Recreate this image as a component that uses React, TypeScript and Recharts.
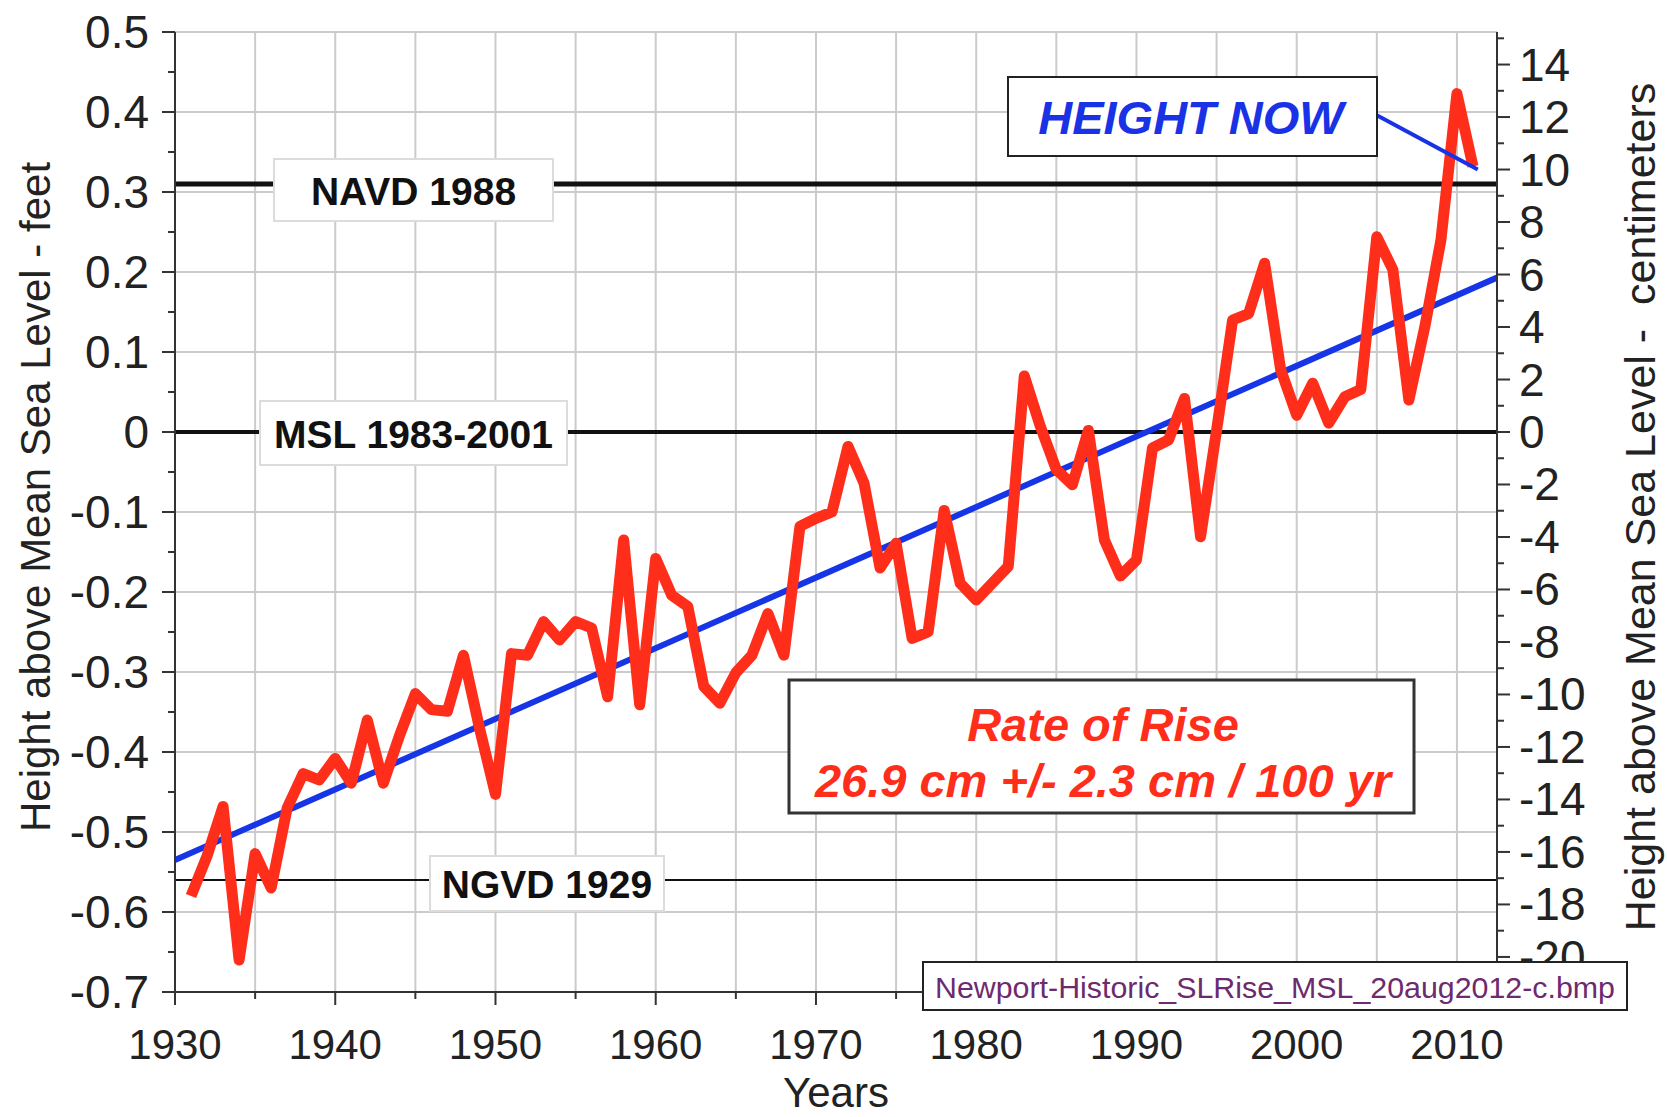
import React from 'react';
import { ComposedChart, Line, XAxis, YAxis, CartesianGrid, ReferenceLine } from 'recharts';

const FONT = '"Liberation Sans", Arial, Helvetica, sans-serif';

// annual mean sea level, feet above MSL 1983-2001
const years = [
  1931, 1932, 1933, 1934, 1935, 1936, 1937, 1938, 1939, 1940,
  1941, 1942, 1943, 1944, 1945, 1946, 1947, 1948, 1949, 1950,
  1951, 1952, 1953, 1954, 1955, 1956, 1957, 1958, 1959, 1960,
  1961, 1962, 1963, 1964, 1965, 1966, 1967, 1968, 1969, 1970,
  1971, 1972, 1973, 1974, 1975, 1976, 1977, 1978, 1979, 1980,
  1981, 1982, 1983, 1984, 1985, 1986, 1987, 1988, 1989, 1990,
  1991, 1992, 1993, 1994, 1995, 1996, 1997, 1998, 1999, 2000,
  2001, 2002, 2003, 2004, 2005, 2006, 2007, 2008, 2009, 2010, 2011
];
const heightFt = [
  -0.58, -0.53, -0.468, -0.66, -0.527, -0.57, -0.47, -0.427, -0.435, -0.408,
  -0.439, -0.36, -0.439, -0.38, -0.327, -0.347, -0.349, -0.279, -0.37, -0.453,
  -0.277, -0.279, -0.237, -0.26, -0.237, -0.245, -0.331, -0.135, -0.341, -0.158,
  -0.204, -0.218, -0.318, -0.339, -0.301, -0.279, -0.227, -0.279, -0.118, -0.108,
  -0.1, -0.018, -0.064, -0.17, -0.139, -0.258, -0.25, -0.098, -0.189, -0.21,
  -0.189, -0.168, 0.07, 0.007, -0.047, -0.066, 0.002, -0.135, -0.18, -0.16,
  -0.02, -0.01, 0.042, -0.131, 0.002, 0.14, 0.148, 0.211, 0.078, 0.021,
  0.061, 0.011, 0.044, 0.053, 0.244, 0.203, 0.04, 0.132, 0.24, 0.423, 0.332
];

// linear trend end points (26.9 cm / 100 yr)
const trendYears = [1930, 2012.5];
const trendFt = [-0.535, 0.193];

// "HEIGHT NOW" pointer
const pointerYears = [2005.0, 2011.3];
const pointerFt = [0.396, 0.328];

// tidal datums
const datumNames = ['NAVD 1988', 'MSL 1983-2001', 'NGVD 1929'];
const datumFt = [0.31, 0, -0.56];

const yearTicks = [1930, 1935, 1940, 1945, 1950, 1955, 1960, 1965, 1970, 1975, 1980, 1985, 1990, 1995, 2000, 2005, 2010];
const ftTicks = [0.5, 0.45, 0.4, 0.35, 0.3, 0.25, 0.2, 0.15, 0.1, 0.05, 0, -0.05, -0.1, -0.15, -0.2, -0.25, -0.3, -0.35, -0.4, -0.45, -0.5, -0.55, -0.6, -0.65, -0.7];
const ftGrid = [0.5, 0.4, 0.3, 0.2, 0.1, 0, -0.1, -0.2, -0.3, -0.4, -0.5, -0.6, -0.7];
const cmTicks = [15, 14, 13, 12, 11, 10, 9, 8, 7, 6, 5, 4, 3, 2, 1, 0, -1, -2, -3, -4, -5, -6, -7, -8, -9, -10, -11, -12, -13, -14, -15, -16, -17, -18, -19, -20, -21];

const seaData = years.map((year, i) => ({ year, ft: heightFt[i] }));
const trendData = trendYears.map((year, i) => ({ year, ft: trendFt[i] }));
const pointerData = pointerYears.map((year, i) => ({ year, ft: pointerFt[i] }));

// label box placement for each datum line (pixels relative to plot left / line)
const datumStyle = [
  { dx: 99, w: 279, top: 25, bottom: 37, ty: 7, sw: 5 },
  { dx: 85, w: 307, top: 31, bottom: 33, ty: 2, sw: 4 },
  { dx: 255, w: 234, top: 24, bottom: 31, ty: 4, sw: 2 }
];

const TICK_COLOR = '#333';
const LABEL_COLOR = '#222';

const fmtFt = (v: number) => (Math.abs(v) < 1e-9 ? '0' : v.toFixed(1));

const FtTick = (props: any) => {
  const { x, y, payload } = props;
  const v = payload.value;
  const major = Math.round(v * 100) % 10 === 0;
  return (
    <g>
      <line x1={x} x2={x - (major ? 13 : 7)} y1={y} y2={y} stroke={TICK_COLOR} strokeWidth={2} />
      {major && (
        <text x={x - 26} y={y} textAnchor="end" dominantBaseline="central" fontSize={46} fill={LABEL_COLOR} fontFamily={FONT}>
          {fmtFt(v)}
        </text>
      )}
    </g>
  );
};

const CmTick = (props: any) => {
  const { x, y, payload } = props;
  const v = payload.value;
  const major = v % 2 === 0;
  return (
    <g>
      <line x1={x} x2={x + (major ? 13 : 7)} y1={y} y2={y} stroke={TICK_COLOR} strokeWidth={2} />
      {major && (
        <text x={x + 22} y={y} textAnchor="start" dominantBaseline="central" fontSize={46} fill={LABEL_COLOR} fontFamily={FONT}>
          {String(v)}
        </text>
      )}
    </g>
  );
};

const YearTick = (props: any) => {
  const { x, y, payload } = props;
  const v = payload.value;
  const major = v % 10 === 0;
  return (
    <g>
      <line x1={x} x2={x} y1={y} y2={y + (major ? 13 : 7)} stroke={TICK_COLOR} strokeWidth={2} />
      {major && (
        <text x={x} y={y + 67} textAnchor="middle" fontSize={42} fill={LABEL_COLOR} fontFamily={FONT}>
          {String(v)}
        </text>
      )}
    </g>
  );
};

const DatumLabel = (props: any) => {
  const { viewBox, text, st } = props;
  const x = viewBox.x;
  const y = viewBox.y;
  return (
    <g>
      <rect x={x + st.dx} y={y - st.top} width={st.w} height={st.top + st.bottom} fill="#fff" stroke="#dcdcdc" strokeWidth={2} />
      <text x={x + st.dx + st.w / 2} y={y + st.ty} textAnchor="middle" dominantBaseline="central" fontSize={39} fontWeight="bold" fill="#111" fontFamily={FONT}>
        {text}
      </text>
    </g>
  );
};

const App: React.FC = () => {
  return (
    <div style={{ position: 'absolute', left: 0, top: 0, width: 1667, height: 1117, background: '#fff' }}>
      <ComposedChart width={1667} height={1117} margin={{ top: 32, right: 0, bottom: 0, left: 0 }}>
        <CartesianGrid yAxisId="ft" stroke="#cbcbcb" strokeWidth={2} horizontalValues={ftGrid} verticalValues={yearTicks} />
        <XAxis
          dataKey="year"
          type="number"
          domain={[1930, 2012.5]}
          allowDataOverflow
          ticks={yearTicks}
          interval={0}
          height={125}
          tickSize={0}
          tickMargin={0}
          tickLine={false}
          tick={<YearTick />}
          axisLine={{ stroke: TICK_COLOR, strokeWidth: 2 }}
        />
        <YAxis
          yAxisId="ft"
          orientation="left"
          type="number"
          domain={[-0.7, 0.5]}
          allowDataOverflow
          ticks={ftTicks}
          interval={0}
          width={175}
          tickSize={0}
          tickMargin={0}
          tickLine={false}
          tick={<FtTick />}
          axisLine={{ stroke: TICK_COLOR, strokeWidth: 2 }}
        />
        <YAxis
          yAxisId="cm"
          orientation="right"
          type="number"
          domain={[-21.336, 15.24]}
          allowDataOverflow
          ticks={cmTicks}
          interval={0}
          width={170}
          tickSize={0}
          tickMargin={0}
          tickLine={false}
          tick={<CmTick />}
          axisLine={{ stroke: TICK_COLOR, strokeWidth: 2 }}
        />
        {datumFt.map((v, i) => (
          <ReferenceLine
            key={datumNames[i]}
            yAxisId="ft"
            y={v}
            stroke="#111"
            strokeWidth={datumStyle[i].sw}
            label={<DatumLabel text={datumNames[i]} st={datumStyle[i]} />}
          />
        ))}
        <Line yAxisId="ft" data={trendData} dataKey="ft" type="linear" stroke="#1535e6" strokeWidth={6} dot={false} activeDot={false} isAnimationActive={false} />
        <Line yAxisId="ft" data={seaData} dataKey="ft" type="linear" stroke="#ff2e1a" strokeWidth={11} strokeLinejoin="round" dot={false} activeDot={false} isAnimationActive={false} />
        <Line yAxisId="ft" data={pointerData} dataKey="ft" type="linear" stroke="#1a32e6" strokeWidth={4} dot={false} activeDot={false} isAnimationActive={false} />
      </ComposedChart>
      <svg width={1667} height={1117} style={{ position: 'absolute', left: 0, top: 0, pointerEvents: 'none' }} fontFamily={FONT}>
        <text transform="translate(35,497) rotate(-90)" textAnchor="middle" dominantBaseline="central" fontSize={42} fill={LABEL_COLOR}>
          Height above Mean Sea Level - feet
        </text>
        <text transform="translate(1640,507) rotate(-90)" textAnchor="middle" dominantBaseline="central" fontSize={43} fill={LABEL_COLOR}>
          {'Height above Mean Sea Level -\u00A0 centimeters'}
        </text>
        <text x={836} y={1107} textAnchor="middle" fontSize={42} fill={LABEL_COLOR}>Years</text>

        <rect x={1008} y={77} width={369} height={79} fill="#fff" stroke="#222" strokeWidth={2} />
        <text x={1191} y={117} textAnchor="middle" dominantBaseline="central" fontSize={47} fontWeight="bold" fontStyle="italic" fill="#1a32e6">
          HEIGHT NOW
        </text>

        <rect x={789} y={680} width={625} height={133} fill="#fff" stroke="#333" strokeWidth={3} />
        <text x={1103} y={724} textAnchor="middle" dominantBaseline="central" fontSize={47} fontWeight="bold" fontStyle="italic" fill="#ff2e1a">
          Rate of Rise
        </text>
        <text x={1103} y={780} textAnchor="middle" dominantBaseline="central" fontSize={47} fontWeight="bold" fontStyle="italic" fill="#ff2e1a">
          26.9 cm +/- 2.3 cm / 100 yr
        </text>

        <rect x={923} y={962} width={704} height={48} fill="#fff" stroke="#222" strokeWidth={2} />
        <text x={1275} y={987} textAnchor="middle" dominantBaseline="central" fontSize={30} fill="#6e2a6e" textLength={680} lengthAdjust="spacingAndGlyphs">
          Newport-Historic_SLRise_MSL_20aug2012-c.bmp
        </text>
      </svg>
    </div>
  );
};

export default App;
